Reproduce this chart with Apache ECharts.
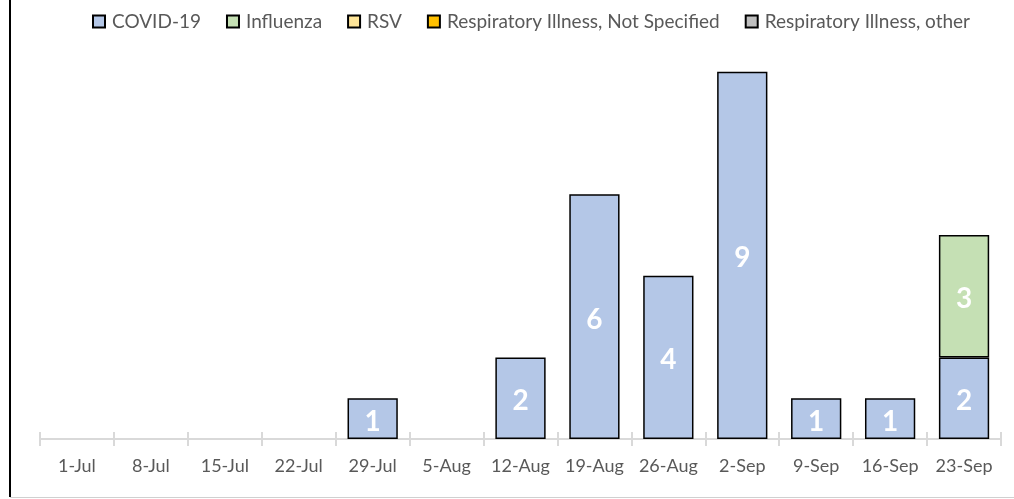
<!DOCTYPE html>
<html><head><meta charset="utf-8">
<script src="https://cdn.jsdelivr.net/npm/echarts@6/dist/echarts.min.js"></script>
<style>html,body{margin:0;padding:0;background:#fff}#c{width:1014px;height:499px}</style>
</head><body><div id="c"></div>
<script>
const categories = ['1-Jul','8-Jul','15-Jul','22-Jul','29-Jul','5-Aug','12-Aug','19-Aug','26-Aug','2-Sep','9-Sep','16-Sep','23-Sep'];
const covid19 = [0,0,0,0,1,0,2,6,4,9,1,1,2];
const influenza = [0,0,0,0,0,0,0,0,0,0,0,0,3];
const rsv = [0,0,0,0,0,0,0,0,0,0,0,0,0];
const respNotSpecified = [0,0,0,0,0,0,0,0,0,0,0,0,0];
const respOther = [0,0,0,0,0,0,0,0,0,0,0,0,0];

const FONT = 'Lato';
const seriesDefs = [
  ['COVID-19', covid19, '#b4c7e7'],
  ['Influenza', influenza, '#c5e0b4'],
  ['RSV', rsv, '#ffe699'],
  ['Respiratory Illness, Not Specified', respNotSpecified, '#ffc000'],
  ['Respiratory Illness, other', respOther, '#bfbfbf']
];
const chart = echarts.init(document.getElementById('c'));
chart.setOption({
  animation: false,
  textStyle: {fontFamily: FONT},
  legend: {
    top: 7, left: 87, itemWidth: 12, itemHeight: 12, itemGap: 25, icon: 'rect',
    textStyle: {fontSize: 19, color: '#595959', fontFamily: FONT, padding: [0,0,0,2]},
    data: seriesDefs.map(s => ({name: s[0], itemStyle: {borderColor: '#000', borderWidth: 2}}))
  },
  grid: {left: 40, right: 13, top: 31, bottom: 60},
  xAxis: [{
    type: 'category', data: categories,
    axisLine: {show: true, lineStyle: {color: '#d9d9d9', width: 2}},
    axisTick: {show: true, interval: 0, length: 7, lineStyle: {color: '#d9d9d9', width: 2}},
    axisLabel: {interval: 0, fontSize: 18, color: '#595959', margin: 18, fontFamily: FONT}
  }, {
    type: 'category', data: categories, position: 'bottom',
    axisLine: {show: false},
    axisTick: {show: true, interval: 0, inside: true, length: 7, lineStyle: {color: '#d9d9d9', width: 2}},
    axisLabel: {show: false}
  }],
  yAxis: {type: 'value', min: 0, max: 10, show: false, splitLine: {show: false}},
  series: seriesDefs.map(s => ({
    name: s[0], type: 'bar', stack: 'total', barWidth: '68%',
    data: s[1].map(v => v === 0 ? '-' : v),
    itemStyle: {color: s[2], borderColor: '#000', borderWidth: 1.5},
    label: {show: true, position: 'inside', offset: [0, 3], color: '#fff', fontSize: 28, fontWeight: 'bold', fontFamily: FONT}
  })),
  graphic: [
    {type: 'line', shape: {x1: 10, y1: 0, x2: 10, y2: 497}, style: {stroke: '#000', lineWidth: 2}},
    {type: 'line', shape: {x1: 10, y1: 497.5, x2: 1014, y2: 497.5}, style: {stroke: '#d0d0d0', lineWidth: 1}}
  ]
});
</script></body></html>
